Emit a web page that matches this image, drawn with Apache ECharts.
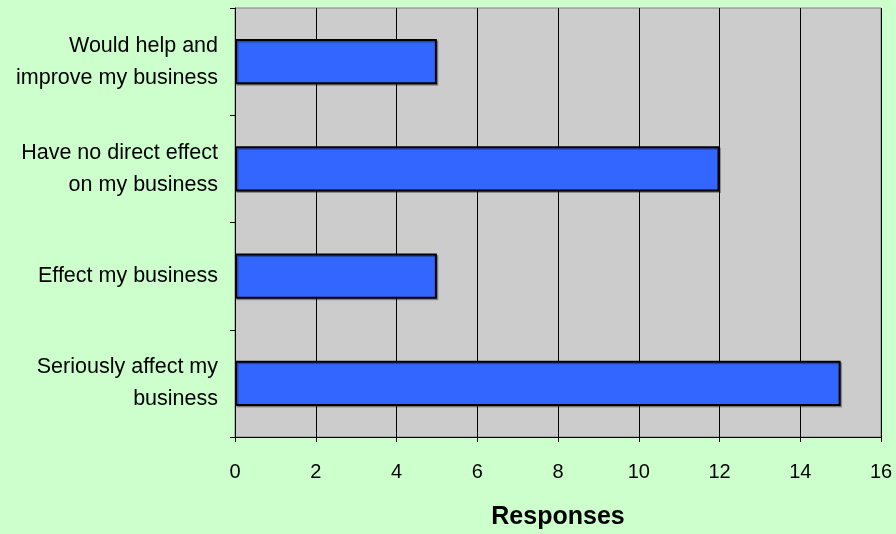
<!DOCTYPE html>
<html>
<head>
<meta charset="utf-8">
<script src="https://cdn.jsdelivr.net/npm/echarts@6/dist/echarts.min.js"></script>
<style>
html,body{margin:0;padding:0;background:#CCFFCC;}
#chart{width:896px;height:534px;}
</style>
</head>
<body>
<div id="chart"></div>
<script>
const categories = ['Seriously affect my\nbusiness', 'Effect my business', 'Have no direct effect\non my business', 'Would help and\nimprove my business'];
const responses = [15, 5, 12, 5];
const xTicks = [0, 2, 4, 6, 8, 10, 12, 14, 16];
const xName = 'Responses';

const chart = echarts.init(document.getElementById('chart'));
const font = '"Liberation Sans", Arial, sans-serif';
chart.setOption({
  backgroundColor: '#CCFFCC',
  animation: false,
  grid: {
    left: 235, right: 15, top: 8, bottom: 97,
    containLabel: false, outerBoundsMode: 'none',
    show: true, backgroundColor: '#CCCCCC', borderColor: '#808080', borderWidth: 1
  },
  xAxis: {
    type: 'value',
    min: xTicks[0], max: xTicks[xTicks.length - 1], interval: 2,
    name: xName, nameLocation: 'middle', nameGap: 68,
    nameTextStyle: { fontFamily: font, fontSize: 25, fontWeight: 'bold', color: '#000' },
    axisLine: { show: true, lineStyle: { color: '#000', width: 1 } },
    axisTick: { show: true, length: 5, lineStyle: { color: '#000' } },
    axisLabel: { fontFamily: font, fontSize: 20, color: '#000', margin: 25 },
    splitLine: { show: true, lineStyle: { color: '#000', width: 1 } }
  },
  yAxis: {
    type: 'category',
    data: categories,
    axisLine: { show: true, lineStyle: { color: '#000', width: 1 } },
    axisTick: { show: true, length: 5, alignWithLabel: false, lineStyle: { color: '#000' } },
    axisLabel: { fontFamily: font, fontSize: 21.5, color: '#000', margin: 17, align: 'right', lineHeight: 32 },
    splitLine: { show: false }
  },
  series: [{
    type: 'bar',
    data: responses,
    barWidth: '42%',
    itemStyle: {
      color: '#3366FF', borderColor: '#000', borderWidth: 2,
      shadowColor: 'rgba(0,0,0,0.3)', shadowOffsetX: 1.5, shadowOffsetY: 1.5, shadowBlur: 0
    }
  }]
});
</script>
</body>
</html>
